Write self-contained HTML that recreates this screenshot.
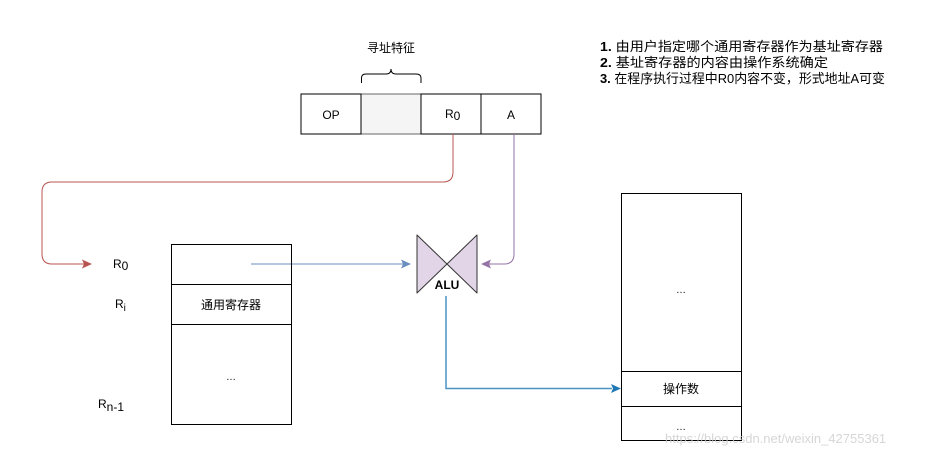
<!DOCTYPE html>
<html><head><meta charset="utf-8"><style>
body{margin:0;background:#fff;}
svg{display:block;font-family:"Liberation Sans","Noto Sans CJK SC",sans-serif;}
</style></head><body>
<svg width="946" height="457" viewBox="0 0 946 457" xmlns="http://www.w3.org/2000/svg">
<rect width="946" height="457" fill="#fff"/>
<text x="391" y="52" font-size="12" text-anchor="middle" fill="#000">寻址特征</text>
<path d="M361.5 83 V78 Q361.5 74 366 74 H386 Q391 74 391 69 Q391 74 396 74 H416 Q421 74 421 78 V83" fill="none" stroke="#000" stroke-width="1"/>
<rect x="361" y="94" width="60" height="40" fill="#f5f5f5" stroke="#666"/>
<rect x="301" y="94" width="60" height="40" fill="#fff" stroke="#000"/>
<rect x="421" y="94" width="60" height="40" fill="#fff" stroke="#000"/>
<rect x="481" y="94" width="60" height="40" fill="#fff" stroke="#000"/>
<text x="331" y="119" font-size="12" text-anchor="middle">OP</text>
<text x="445" y="118" font-size="12">R<tspan font-size="12" dy="2">0</tspan></text>
<text x="511" y="119" font-size="12" text-anchor="middle">A</text>
<g font-size="13" fill="#000">
<text x="600" y="51" textLength="283" lengthAdjust="spacingAndGlyphs"><tspan font-weight="bold">1.</tspan> 由用户指定哪个通用寄存器作为基址寄存器</text>
<text x="600" y="67" textLength="228" lengthAdjust="spacingAndGlyphs"><tspan font-weight="bold">2.</tspan> 基址寄存器的内容由操作系统确定</text>
<text x="600" y="83" textLength="285" lengthAdjust="spacingAndGlyphs"><tspan font-weight="bold">3.</tspan> 在程序执行过程中R0内容不变，形式地址A可变</text>
</g>
<path d="M453 134 V172 Q453 182 443 182 H52 Q42 182 42 192 V254 Q42 264 52 264 H84" fill="none" stroke="#b85450" stroke-width="1"/>
<path d="M92 264 L82 259.5 L84 264 L82 268.5 Z" fill="#b85450"/>
<path d="M514 134 V254 Q514 264 504 264 H488" fill="none" stroke="#9673a6" stroke-width="1"/>
<path d="M481 264 L491 259.5 L489 264 L491 268.5 Z" fill="#9673a6"/>
<path d="M417 235 L477 293 L477 235 L417 293 Z" fill="#e1d5e7" stroke="#333" stroke-width="1" stroke-linejoin="round"/>
<text x="447" y="289" font-size="12" font-weight="bold" text-anchor="middle">ALU</text>
<line x1="251" y1="264" x2="404" y2="264" stroke="#6c8ebf" stroke-width="1"/>
<path d="M411 264 L401 259.5 L403 264 L401 268.5 Z" fill="#6c8ebf"/>
<path d="M446 296 V388.5 H612" fill="none" stroke="#1f78b4" stroke-width="1.5" opacity="0.8"/>
<path d="M621 388.5 L611 384 L613 388.5 L611 393 Z" fill="#1f78b4"/>
<rect x="171.5" y="244.5" width="120" height="180" fill="none" stroke="#000"/>
<line x1="171.5" y1="284.5" x2="291.5" y2="284.5" stroke="#000"/>
<line x1="171.5" y1="324.5" x2="291.5" y2="324.5" stroke="#000"/>
<text x="231" y="309" font-size="12" text-anchor="middle">通用寄存器</text>
<text x="231" y="380" font-size="10" text-anchor="middle">…</text>
<text x="113" y="268" font-size="12">R<tspan dy="2">0</tspan></text>
<text x="115" y="308" font-size="12">R<tspan dy="3" font-size="10">i</tspan></text>
<text x="98" y="408" font-size="12">R<tspan dy="3">n-1</tspan></text>
<rect x="621.5" y="193.5" width="120" height="247" fill="none" stroke="#000"/>
<line x1="621.5" y1="371.5" x2="741.5" y2="371.5" stroke="#000"/>
<line x1="621.5" y1="406.5" x2="741.5" y2="406.5" stroke="#000"/>
<text x="681" y="293" font-size="10" text-anchor="middle">…</text>
<text x="681" y="393" font-size="12" text-anchor="middle">操作数</text>
<text x="681" y="430" font-size="10" text-anchor="middle">…</text>
<text x="665" y="443" font-size="13" fill="#ccc" opacity="0.8">https://blog.csdn.net/weixin_42755361</text>
</svg>
</body></html>
